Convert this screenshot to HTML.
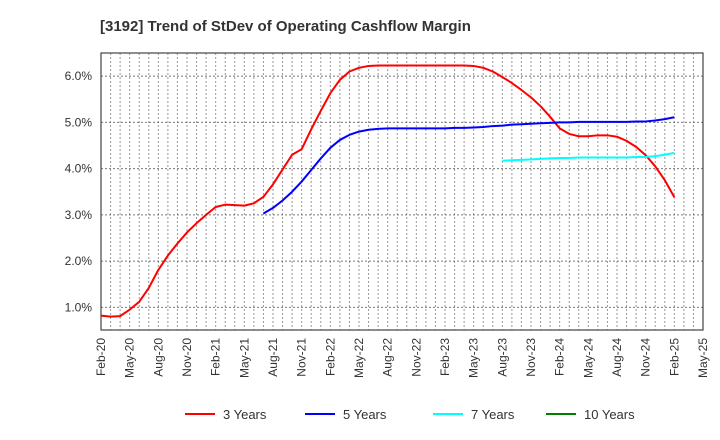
<!DOCTYPE html>
<html><head><meta charset="utf-8"><style>
body{margin:0;background:#fff;font-family:"Liberation Sans",sans-serif}
svg{display:block}
</style></head><body>
<svg id="c" width="720" height="440" xmlns="http://www.w3.org/2000/svg">
<text x="100" y="31" font-size="15" font-weight="bold" fill="#333">[3192]  Trend of StDev of Operating Cashflow Margin</text>
<g id="grid"></g><g id="axes"></g><g id="series"></g><g id="legend"></g>
</svg>
<script>
const xLabels=["Feb-20","May-20","Aug-20","Nov-20","Feb-21","May-21","Aug-21","Nov-21","Feb-22","May-22","Aug-22","Nov-22","Feb-23","May-23","Aug-23","Nov-23","Feb-24","May-24","Aug-24","Nov-24","Feb-25","May-25"];
const yTicks=[1,2,3,4,5,6];
const seriesNames=["3 Years","5 Years","7 Years","10 Years"];
const seriesColors=["#ff0000","#0000ff","#00ffff","#008000"];
const s3Start=0;
const s3=[0.82,0.80,0.81,0.95,1.12,1.42,1.81,2.12,2.38,2.62,2.82,3.0,3.17,3.22,3.21,3.2,3.25,3.39,3.66,3.98,4.3,4.42,4.85,5.25,5.63,5.92,6.1,6.18,6.22,6.23,6.23,6.23,6.23,6.23,6.23,6.23,6.23,6.23,6.23,6.22,6.18,6.1,5.98,5.85,5.7,5.54,5.35,5.12,4.87,4.75,4.7,4.7,4.72,4.72,4.69,4.6,4.47,4.29,4.05,3.75,3.38];
const s5Start=17;
const s5=[3.03,3.15,3.31,3.5,3.72,3.97,4.22,4.45,4.62,4.73,4.8,4.84,4.86,4.87,4.87,4.87,4.87,4.87,4.87,4.87,4.88,4.88,4.89,4.9,4.92,4.93,4.95,4.96,4.97,4.98,4.99,5.0,5.0,5.01,5.01,5.01,5.01,5.01,5.01,5.02,5.02,5.04,5.07,5.11];
const s7Start=42;
const s7=[4.17,4.18,4.19,4.2,4.21,4.22,4.23,4.23,4.24,4.24,4.24,4.24,4.24,4.24,4.25,4.25,4.27,4.3,4.34];
const s10Start=0;
const s10=[];

const L=101,R=703,T=53,B=330,yMin=0.51,yMax=6.5,nMonths=63;
const X=m=>L+(R-L)*m/nMonths;
const Y=v=>B-(B-T)*(v-yMin)/(yMax-yMin);
const NS="http://www.w3.org/2000/svg";
function mk(tag,attrs,parent,text){const e=document.createElementNS(NS,tag);for(const k in attrs)e.setAttribute(k,attrs[k]);if(text!==undefined)e.textContent=text;parent.appendChild(e);return e;}
const grid=document.getElementById('grid'),axes=document.getElementById('axes'),ser=document.getElementById('series'),leg=document.getElementById('legend');
for(let m=1;m<nMonths;m++){const l=mk('line',{x1:X(m),x2:X(m),y1:T,y2:B,stroke:'#999','stroke-width':1,'stroke-dasharray':'2,2'},grid);

}
yTicks.forEach(v=>{const l=mk('line',{x1:L,x2:R,y1:Y(v),y2:Y(v),stroke:'#777','stroke-width':1,'stroke-dasharray':'2,2'},grid);


const t=mk('text',{x:92,y:Y(v)+4,'font-size':12,'text-anchor':'end',fill:'#333'},axes,v.toFixed(1)+'%');

});
const fr=mk('rect',{x:L,y:T,width:R-L,height:B-T,fill:'none',stroke:'#444','stroke-width':1.2},axes);


xLabels.forEach((s,i)=>{const x=X(i*3);const t=mk('text',{x:0,y:0,'font-size':12,'text-anchor':'end',fill:'#333',transform:`translate(${x+4},338) rotate(-90)`},axes,s);

});
[[s3,s3Start],[s5,s5Start],[s7,s7Start],[s10,s10Start]].forEach(([d,st],i)=>{if(!d.length)return;
const p=mk('polyline',{points:d.map((v,j)=>X(st+j)+','+Y(v)).join(' '),fill:'none',stroke:seriesColors[i],'stroke-width':2,'stroke-linejoin':'round'},ser);

});
const lx=[185,305,433,546];
seriesNames.forEach((n,i)=>{const g=mk('g',{},leg);


mk('line',{x1:lx[i],x2:lx[i]+30,y1:414,y2:414,stroke:seriesColors[i],'stroke-width':2},g);
mk('text',{x:lx[i]+38,y:419,'font-size':13,fill:'#333'},g,n);});
</script>
</body></html>
